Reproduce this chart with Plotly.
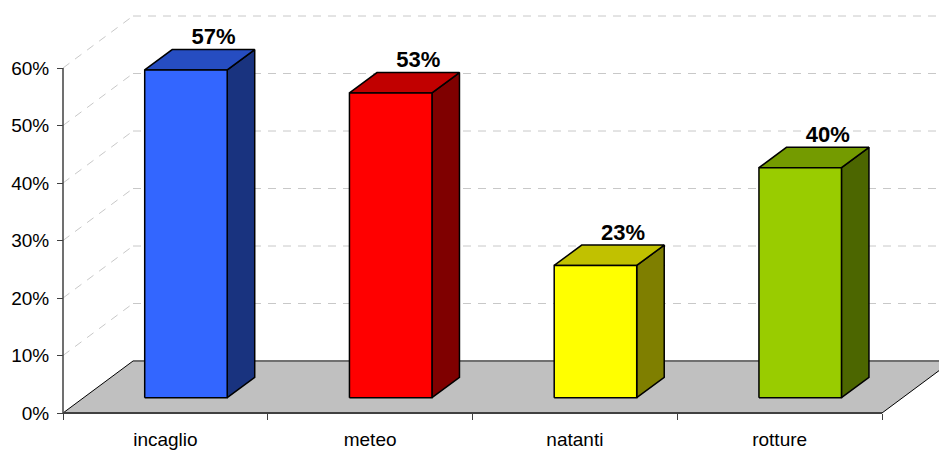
import plotly.graph_objects as go

# Data
categories = ["incaglio", "meteo", "natanti", "rotture"]
values = [57, 53, 23, 40]          # percent
y_ticks = [0, 10, 20, 30, 40, 50, 60]
y_tick_text = [f"{t}%" for t in y_ticks]

# Colours of each bar (front face) plus shaded top/side faces
front_colors = ["#3366FF", "#FF0000", "#FFFF00", "#99CC00"]


def shade(hex_color, f):
    h = hex_color.lstrip("#")
    r, g, b = (int(h[i:i + 2], 16) for i in (0, 2, 4))
    return "#{:02X}{:02X}{:02X}".format(int(r * f), int(g * f), int(b * f))


top_colors = [shade(c, 0.76) for c in front_colors]
side_colors = [shade(c, 0.5) for c in front_colors]

# Pseudo-3D projection: depth z in [0, 1] shifts points right and up
PX_PER_CAT = 204.75
PX_PER_PCT = 5.75
DX = 70 / PX_PER_CAT        # depth shift in category units
DY = 52 / PX_PER_PCT        # depth shift in percent units
Z_FRONT, Z_BACK = 0.294, 0.687
BAR_W = 0.403
N = len(categories)


def proj(x, y, z):
    return x + z * DX, y + z * DY


fig = go.Figure()


def poly(points, fill, line_color="black", line_width=1.5):
    xs = [p[0] for p in points] + [points[0][0]]
    ys = [p[1] for p in points] + [points[0][1]]
    fig.add_trace(go.Scatter(x=xs, y=ys, mode="lines", fill="toself",
                             fillcolor=fill,
                             line=dict(color=line_color, width=line_width),
                             hoverinfo="skip", showlegend=False))


def seg(p, q, color, width, dash="solid"):
    fig.add_trace(go.Scatter(x=[p[0], q[0]], y=[p[1], q[1]], mode="lines",
                             line=dict(color=color, width=width, dash=dash),
                             hoverinfo="skip", showlegend=False))


# Floor
f0 = proj(0, 0, 0)
f1 = proj(0, 0, 1)
f2 = proj(N, 0, 1)
f3 = proj(N, 0, 0)
poly([f0, f1, f2, f3], "#C0C0C0", line_color="rgba(0,0,0,0)", line_width=0)
seg(f0, f1, "black", 1)
seg(f3, f2, "black", 1)
seg(f1, f2, "#707070", 2)
seg(f0, f3, "#404040", 2)

# Gridlines on the side and back walls
for t in y_ticks[1:]:
    a = proj(0, t, 0)
    b = proj(0, t, 1)
    c = proj(N, t, 1)
    seg(a, b, "#C8C8C8", 1, dash="8px,7px")
    seg(b, c, "#C8C8C8", 1, dash="8px,7px")

# Value axis line
seg((0, 0), (0, y_ticks[-1]), "#404040", 1.5)

# Bars
label_x, label_y = [], []
for i, v in enumerate(values):
    cx = i + 0.5
    xl, xr = cx - BAR_W / 2, cx + BAR_W / 2
    fbl = proj(xl, 0, Z_FRONT)
    fbr = proj(xr, 0, Z_FRONT)
    ftl = proj(xl, v, Z_FRONT)
    ftr = proj(xr, v, Z_FRONT)
    bbr = proj(xr, 0, Z_BACK)
    btl = proj(xl, v, Z_BACK)
    btr = proj(xr, v, Z_BACK)
    poly([fbr, bbr, btr, ftr], side_colors[i])
    poly([ftl, ftr, btr, btl], top_colors[i])
    poly([fbl, fbr, ftr, ftl], front_colors[i])
    lx, ly = proj(cx, v, Z_BACK)
    label_x.append(lx)
    label_y.append(ly)

fig.add_trace(go.Scatter(
    x=label_x, y=label_y, mode="text",
    text=[f"{v}%" for v in values], textposition="top center",
    textfont=dict(family="Liberation Sans, Arial, sans-serif", size=22,
                  color="black", weight="bold"),
    hoverinfo="skip", showlegend=False, cliponaxis=False))

W, H = 939, 450
ML, MB = 61, 35
x0 = -2 / PX_PER_CAT
y0 = -2 / PX_PER_PCT
plot_w = W - ML
plot_h = H - MB

fig.update_layout(
    width=W, height=H,
    margin=dict(l=ML, r=0, t=0, b=MB),
    paper_bgcolor="white", plot_bgcolor="white",
    font=dict(family="Liberation Sans, Arial, sans-serif", size=19,
              color="black"),
    showlegend=False,
    xaxis=dict(
        range=[x0, x0 + plot_w / PX_PER_CAT],
        tickvals=[i + 0.5 for i in range(N)], ticktext=categories,
        ticks="", showgrid=False, zeroline=False, showline=False,
        anchor="free", position=2 / plot_h,
        minor=dict(tickvals=list(range(N + 1)), ticks="outside",
                   ticklen=6, tickcolor="#404040", tickwidth=1,
                   showgrid=False),
        tickfont=dict(size=19),
        ticklabelstandoff=13,
    ),
    yaxis=dict(
        range=[y0, y0 + plot_h / PX_PER_PCT],
        tickvals=y_ticks, ticktext=y_tick_text,
        ticks="outside", ticklen=6, tickcolor="#404040", tickwidth=1,
        showgrid=False, zeroline=False, showline=False,
        anchor="free", position=2 / plot_w,
        tickfont=dict(size=19),
        ticklabelstandoff=4,
    ),
)

fig.write_html("out.html")
